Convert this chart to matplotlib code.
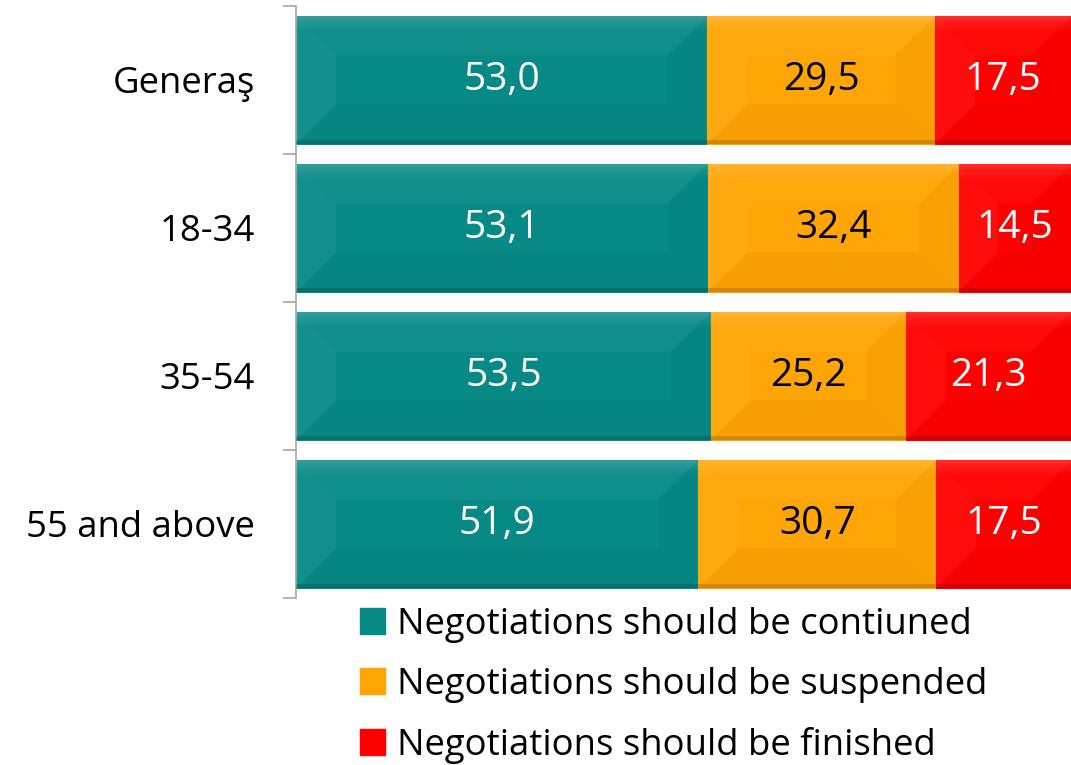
import matplotlib
matplotlib.use("Agg")
import matplotlib.pyplot as plt
from matplotlib.patches import Polygon, Patch
import numpy as np

plt.rcParams['font.family'] = ['Open Sans', 'DejaVu Sans']

groups = ["Generaş", "18-34", "35-54", "55 and above"]
continued = [53.0, 53.1, 53.5, 51.9]
suspended = [29.5, 32.4, 25.2, 30.7]
finished = [17.5, 14.5, 21.3, 17.5]
series_names = ["Negotiations should be contiuned",
                "Negotiations should be suspended",
                "Negotiations should be finished"]
colors = ["#078a86", "#ffa505", "#ff0000"]
text_colors = ["white", "black", "white"]

fig = plt.figure(figsize=(10.71, 7.65), dpi=100)
ax = fig.add_axes([0.2764, 0.2183, 0.7236, 0.7739])

bar_h = 0.865
y = np.arange(len(groups))
# bevel width in data units (about 40 px across)
bx = 40 * 100 / 775


def bevel(x0, w, yc, h):
    x1 = x0 + w
    y0, y1 = yc - h / 2, yc + h / 2
    d = min(bx, w / 2)
    dy = h * 0.31
    # y axis is inverted, so y0 is the upper edge
    ax.add_patch(Polygon([[x0, y0], [x1, y0], [x1 - d, y0 + dy], [x0 + d, y0 + dy]],
                         closed=True, fc="white", alpha=0.04, lw=0, zorder=3))
    ax.add_patch(Polygon([[x0, y0], [x0 + d, y0 + dy], [x0 + d, y1 - dy], [x0, y1]],
                         closed=True, fc="white", alpha=0.05, lw=0, zorder=3))
    ax.add_patch(Polygon([[x1, y0], [x1 - d, y0 + dy], [x1 - d, y1 - dy], [x1, y1]],
                         closed=True, fc="black", alpha=0.025, lw=0, zorder=3))
    ax.add_patch(Polygon([[x0, y1], [x1, y1], [x1 - d, y1 - dy], [x0 + d, y1 - dy]],
                         closed=True, fc="black", alpha=0.03, lw=0, zorder=3))
    # soft highlight fading down from the top edge
    for k, a in enumerate([0.14, 0.10, 0.07, 0.05, 0.03, 0.015]):
        t0 = y0 + k * 0.018
        ax.add_patch(Polygon([[x0, t0], [x1, t0], [x1, t0 + 0.018], [x0, t0 + 0.018]],
                             closed=True, fc="white", alpha=a, lw=0, zorder=3))
    ax.add_patch(Polygon([[x0, y1], [x1, y1], [x1, y1 - 0.025], [x0, y1 - 0.025]],
                         closed=True, fc="black", alpha=0.15, lw=0, zorder=3))


left = np.zeros(len(groups))
handles = []
for vals, col, tcol, name in zip([continued, suspended, finished], colors, text_colors, series_names):
    ax.barh(y, vals, left=left, height=bar_h, color=col,
            edgecolor=col, linewidth=0.8, zorder=2)
    for yi, l, v in zip(y, left, vals):
        bevel(l, v, yi, bar_h)
        ax.text(l + v / 2, yi, f"{v:.1f}".replace(".", ","), ha="center", va="center",
                color=tcol, fontsize=28, zorder=4)
    handles.append(Patch(facecolor=col, edgecolor=col, label=name))
    left = left + np.array(vals)

ax.set_xlim(0, 100)
ax.set_ylim(3.5, -0.5)
for s in ["top", "right", "bottom"]:
    ax.spines[s].set_visible(False)
ax.spines["left"].set_color("#a6a6a6")
ax.spines["left"].set_linewidth(1.2)
ax.set_xticks([])
ax.set_yticks([-0.5, 0.5, 1.5, 2.5, 3.5])
ax.set_yticklabels([])
ax.tick_params(axis="y", which="major", length=9.5, color="#a6a6a6", width=1.2)
ax.set_yticks(y, minor=True)
ax.set_yticklabels(groups, minor=True, fontsize=26.3)
ax.tick_params(axis="y", which="minor", length=0, pad=29.5)

fig.legend(handles=handles, loc="upper left", bbox_to_anchor=(0.336, 0.207),
           frameon=False, fontsize=26.3, handlelength=0.7, handleheight=0.7,
           handletextpad=0.33, labelspacing=0.66, borderaxespad=0, borderpad=0)

fig.savefig("out.png", dpi=100)
